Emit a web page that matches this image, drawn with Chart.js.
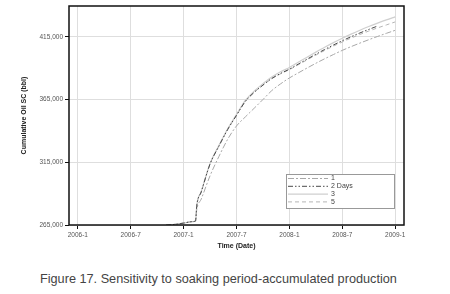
<!DOCTYPE html>
<html>
<head>
<meta charset="utf-8">
<script src="https://cdn.jsdelivr.net/npm/chart.js@4.4.1/dist/chart.umd.min.js"></script>
<style>
  html, body { margin: 0; padding: 0; background: #fff; }
  #wrap { position: relative; width: 450px; height: 294px; overflow: hidden; }
  #box { position: absolute; left: 0; top: 0; width: 450px; height: 252px; }
  #caption { position: absolute; left: 40px; top: 272px; white-space: nowrap;
    font-family: "Liberation Sans", Arial, sans-serif; font-size: 12.7px; color: #444; }
</style>
</head>
<body>
<div id="wrap">
  <div id="box"><canvas id="c"></canvas></div>
  <div id="caption">Figure 17. Sensitivity to soaking period-accumulated production</div>
</div>
<script>
// months since 2006-1 (0 = 2006-1)
const months = [10, 11, 12, 13, 13.35, 13.5, 14, 15, 16, 17, 18, 19, 20, 21, 22, 23, 24, 25, 26, 27, 28, 29, 30, 31, 32, 33, 34, 35, 36];
const series1 = [264800, 265500, 266500, 267700, 268200, 277500, 285700, 304300, 319600, 333400, 344000, 351200, 358100, 365100, 372200, 377600, 382300, 386300, 390200, 394000, 397600, 401000, 404300, 407300, 410100, 412800, 415400, 417900, 420300];
const series2Days = [264800, 265500, 266500, 267700, 268200, 280800, 291400, 313700, 327900, 341200, 352500, 363600, 370800, 376600, 381900, 385900, 389300, 393300, 397300, 401200, 405000, 408600, 412000, 415200, 418200, 421000, 423700, null, null];
const series3 = [264800, 265500, 266500, 267700, 268200, 281000, 291700, 314100, 328400, 341800, 353200, 364400, 371800, 377700, 383100, 387200, 390700, 394800, 398900, 402900, 406800, 410500, 414000, 417300, 420400, 423300, 426000, 428600, 431000];
const series5 = [264800, 265500, 266500, 267700, 268200, 280700, 291300, 313600, 327800, 341100, 352400, 363500, 370800, 376500, 381700, 385600, 388900, 392800, 396700, 400500, 404200, 407700, 411000, 414100, 417000, 419700, 422200, 424600, 427000];
const seriesLabels = ['1', '2 Days', '3', '5'];
const xTickValues = [0, 6, 12, 18, 24, 30, 36];
const xTickLabels = ['2006-1', '2006-7', '2007-1', '2007-7', '2008-1', '2008-7', '2009-1'];
const yTickValues = [265000, 315000, 365000, 415000];
const yTickLabels = ['265,000', '315,000', '365,000', '415,000'];

function pts(arr) { return months.map((m, i) => ({ x: m, y: arr[i] })); }

const styles = [
  { color: '#a8a8a8', dash: [6, 2, 2, 2], width: 1 },
  { color: '#4a4a4a', dash: [5, 2, 1.5, 2, 1.5, 2], width: 1 },
  { color: '#cfcfcf', dash: [], width: 1.2 },
  { color: '#b5b5b5', dash: [4, 3], width: 1 }
];
const dataArrays = [series1, series2Days, series3, series5];
const datasets = dataArrays.map((arr, i) => ({
  label: seriesLabels[i],
  data: pts(arr),
  borderColor: styles[i].color,
  borderDash: styles[i].dash,
  borderWidth: styles[i].width,
  pointRadius: 0,
  fill: false,
  cubicInterpolationMode: 'monotone',
  spanGaps: false
}));
datasets[2].order = 4; datasets[3].order = 3; datasets[0].order = 2; datasets[1].order = 1;

const frame = {
  id: 'frame',
  afterDatasetsDraw(chart) {
    const a = chart.chartArea, ctx = chart.ctx;
    ctx.save();
    ctx.strokeStyle = '#111';
    ctx.lineWidth = 1.5;
    ctx.strokeRect(a.left, a.top, a.right - a.left, a.bottom - a.top);
    ctx.restore();
  }
};

const innerLegend = {
  id: 'innerLegend',
  afterDraw(chart) {
    const a = chart.chartArea, ctx = chart.ctx;
    const bx = a.right - 118, by = a.bottom - 51, bw = 108, bh = 34;
    ctx.save();
    ctx.fillStyle = '#fff';
    ctx.fillRect(bx, by, bw, bh);
    ctx.strokeStyle = '#999';
    ctx.lineWidth = 1;
    ctx.strokeRect(bx + 0.5, by + 0.5, bw, bh);
    ctx.font = '7px "Liberation Sans", Arial, sans-serif';
    ctx.textBaseline = 'middle';
    ctx.fillStyle = '#444';
    chart.data.datasets.forEach((ds, i) => {
      const y = by + 4.5 + i * 7.8;
      ctx.beginPath();
      ctx.setLineDash(ds.borderDash || []);
      ctx.strokeStyle = ds.borderColor;
      ctx.lineWidth = ds.borderWidth;
      ctx.moveTo(bx + 2, y);
      ctx.lineTo(bx + 42, y);
      ctx.stroke();
      ctx.setLineDash([]);
      ctx.fillText(ds.label, bx + 45, y);
    });
    ctx.restore();
  }
};

new Chart(document.getElementById('c'), {
  type: 'line',
  data: { datasets },
  options: {
    responsive: true,
    maintainAspectRatio: false,
    animation: false,
    layout: { padding: { left: 16, top: 6, right: 46, bottom: 0 } },
    plugins: { legend: { display: false }, tooltip: { enabled: false } },
    scales: {
      x: {
        type: 'linear',
        min: -1,
        max: 37,
        afterBuildTicks(s) { s.ticks = xTickValues.map(v => ({ value: v })); },
        afterFit(s) { s.height = 27; },
        ticks: {
          autoSkip: false,
          maxRotation: 0,
          padding: 2,
          color: '#555',
          font: { family: '"Liberation Sans", Arial, sans-serif', size: 6.5 },
          callback(v) { const k = xTickValues.indexOf(v); return k >= 0 ? xTickLabels[k] : ''; }
        },
        grid: { color: '#dedede', lineWidth: 1, tickLength: 4, tickColor: '#111', tickWidth: 1 },
        border: { display: false },
        title: {
          display: true, text: 'Time (Date)', color: '#222',
          font: { family: '"Liberation Sans", Arial, sans-serif', size: 7, weight: 'bold' },
          padding: { top: 2, bottom: 2 }
        }
      },
      y: {
        type: 'linear',
        min: 265000,
        max: 439700,
        afterBuildTicks(s) { s.ticks = yTickValues.map(v => ({ value: v })); },
        afterFit(s) { s.width = 53; },
        ticks: {
          padding: 2,
          color: '#555',
          font: { family: '"Liberation Sans", Arial, sans-serif', size: 6.5 },
          callback(v) { const k = yTickValues.indexOf(v); return k >= 0 ? yTickLabels[k] : ''; }
        },
        grid: { color: '#dedede', lineWidth: 1, tickLength: 4, tickColor: '#111', tickWidth: 1 },
        border: { display: false },
        title: {
          display: true, text: 'Cumulative Oil SC (bbl)', color: '#222',
          font: { family: '"Liberation Sans", Arial, sans-serif', size: 7, weight: 'bold' },
          padding: { top: 4, bottom: 4 }
        }
      }
    }
  },
  plugins: [frame, innerLegend]
});
</script>
</body>
</html>
